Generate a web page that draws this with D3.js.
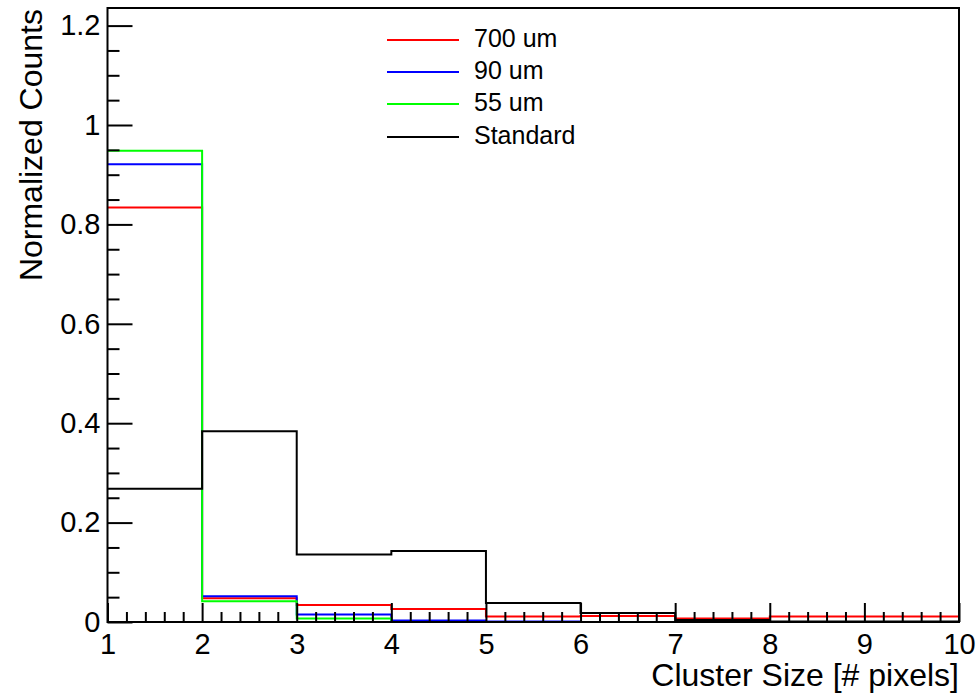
<!DOCTYPE html>
<html>
<head>
<meta charset="utf-8">
<script src="https://cdn.jsdelivr.net/npm/d3@7"></script>
<style>
  body { margin: 0; background: #fff; }
  svg { display: block; font-family: "Liberation Sans", Arial, sans-serif; }
</style>
</head>
<body>
<div id="chart"></div>
<script>
// bin lower edges (cluster size in pixels), last edge closes the histogram
var binEdges = [1, 2, 3, 4, 5, 6, 7, 8, 9, 10];
var xMax = 10;

// normalized counts per bin
var red700 = [0.834, 0.048, 0.034, 0.026, 0.011, 0.012, 0.007, 0.011, 0.011, 0.011];
var blue90 = [0.921, 0.052, 0.015, 0.003, 0.001, 0, 0, 0, 0, 0];
var green55 = [0.948, 0.042, 0.007, 0, 0, 0, 0, 0, 0, 0];
var standard = [0.268, 0.384, 0.136, 0.143, 0.038, 0.018, 0.004, 0.001, 0.001, 0.001];

var seriesNames = ["700 um", "90 um", "55 um", "Standard"];
var seriesColors = ["#ff0000", "#0000ff", "#00ff00", "#000000"];
var seriesValues = [red700, blue90, green55, standard];

var yMajorTicks = [0, 0.2, 0.4, 0.6, 0.8, 1, 1.2];
var xMajorTicks = [1, 2, 3, 4, 5, 6, 7, 8, 9, 10];

var W = 978, H = 693;
var frame = { left: 107.5, right: 959, top: 8, bottom: 622 };

var svg = d3.select("#chart")
    .append("svg")
    .attr("width", W)
    .attr("height", H);

var x = d3.scaleLinear()
    .domain([1, xMax])
    .range([frame.left, frame.right]);

// 0 -> 622, 1 -> 125
var y = d3.scaleLinear()
    .domain([0, (frame.bottom - frame.top) / 497])
    .range([frame.bottom, frame.top]);

// histograms
var line = d3.line()
    .x(function (d) { return x(d[0]); })
    .y(function (d) { return y(d[1]); })
    .curve(d3.curveStepAfter);

seriesValues.forEach(function (vals, i) {
    var pts = binEdges.map(function (b, j) { return [b, vals[j]]; });
    pts.push([xMax, vals[vals.length - 1]]);
    svg.append("path")
        .datum(pts)
        .attr("fill", "none")
        .attr("stroke", seriesColors[i])
        .attr("stroke-width", 2)
        .attr("d", line);
});

// minor ticks
var xMinor = d3.range(1, 10.0001, 0.2).filter(function (v) { return Math.abs(v - Math.round(v)) > 1e-6; });
var yMinor = d3.range(0, 1.2001, 0.05).filter(function (v) { return Math.abs(v * 5 - Math.round(v * 5)) > 1e-6; });

svg.append("g")
    .attr("transform", "translate(0," + frame.bottom + ")")
    .call(d3.axisBottom(x).tickValues(xMinor).tickSizeInner(-10).tickSizeOuter(0).tickFormat(""));

svg.append("g")
    .attr("transform", "translate(" + frame.left + ",0)")
    .call(d3.axisLeft(y).tickValues(yMinor).tickSizeInner(-12).tickSizeOuter(0).tickFormat(""));

// major ticks with labels
var xAxis = svg.append("g")
    .attr("transform", "translate(0," + frame.bottom + ")")
    .call(d3.axisBottom(x).tickValues(xMajorTicks).tickSizeInner(-19).tickSizeOuter(0).tickPadding(11).tickFormat(d3.format("d")));

var yAxis = svg.append("g")
    .attr("transform", "translate(" + frame.left + ",0)")
    .call(d3.axisLeft(y).tickValues(yMajorTicks).tickSizeInner(-25).tickSizeOuter(0).tickPadding(7)
        .tickFormat(function (d) { return d3.format("")(+d.toFixed(1)); }));

svg.selectAll(".domain").remove();
svg.selectAll(".tick line").attr("stroke", "#000").attr("stroke-width", 2);
svg.selectAll(".tick text")
    .attr("fill", "#000")
    .style("font-size", "29px")
    .style("font-family", "'Liberation Sans', Arial, sans-serif");

// frame
svg.append("rect")
    .attr("x", frame.left)
    .attr("y", frame.top)
    .attr("width", frame.right - frame.left)
    .attr("height", frame.bottom - frame.top)
    .attr("fill", "none")
    .attr("stroke", "#000")
    .attr("stroke-width", 2);

// axis titles
svg.append("text")
    .attr("x", frame.right)
    .attr("y", 686)
    .attr("text-anchor", "end")
    .style("font-size", "32px")
    .text("Cluster Size [# pixels]");

svg.append("text")
    .attr("transform", "translate(42," + 9 + ") rotate(-90)")
    .attr("text-anchor", "end")
    .style("font-size", "32px")
    .text("Normalized Counts");

// legend
var legendY = [40, 72, 104, 137];
var legend = svg.append("g");
seriesNames.forEach(function (name, i) {
    legend.append("line")
        .attr("x1", 387).attr("x2", 459)
        .attr("y1", legendY[i]).attr("y2", legendY[i])
        .attr("stroke", seriesColors[i])
        .attr("stroke-width", 2);
    legend.append("text")
        .attr("x", 474)
        .attr("y", legendY[i] + 7)
        .style("font-size", "25px")
        .text(name);
});
</script>
</body>
</html>
